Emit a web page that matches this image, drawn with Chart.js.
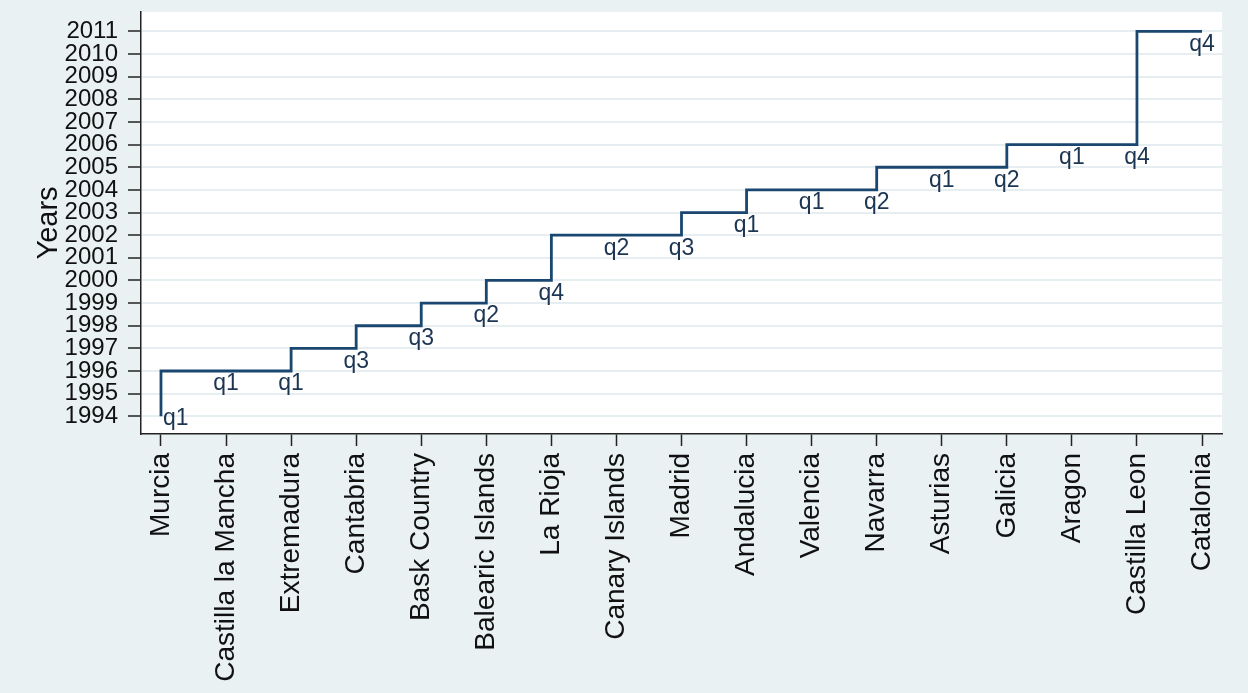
<!DOCTYPE html>
<html>
<head>
<meta charset="utf-8">
<script src="https://cdn.jsdelivr.net/npm/chart.js@4.4.1/dist/chart.umd.min.js"></script>
<style>
    html, body { margin: 0; padding: 0; background: #e9f1f3; }
    #wrap { width: 1248px; height: 693px; position: relative; }
</style>
</head>
<body>
<div id="wrap"><canvas id="stepChart"></canvas></div>
<script>
const regions = [
    'Murcia', 'Castilla la Mancha', 'Extremadura', 'Cantabria', 'Bask Country',
    'Balearic Islands', 'La Rioja', 'Canary Islands', 'Madrid', 'Andalucia',
    'Valencia', 'Navarra', 'Asturias', 'Galicia', 'Aragon', 'Castilla Leon', 'Catalonia'
];
const years = [1994, 1996, 1996, 1997, 1998, 1999, 2000, 2002, 2002, 2003, 2004, 2004, 2005, 2005, 2006, 2006, 2011];
const quarters = ['q1', 'q1', 'q1', 'q3', 'q3', 'q2', 'q4', 'q2', 'q3', 'q1', 'q1', 'q2', 'q1', 'q2', 'q1', 'q4', 'q4'];
const yearTicks = [1994, 1995, 1996, 1997, 1998, 1999, 2000, 2001, 2002, 2003, 2004, 2005, 2006, 2007, 2008, 2009, 2010, 2011];

const FONT = "'Liberation Sans', Arial, sans-serif";
const NAVY = '#1a476f';
const AXIS = '#222';

// white plot region on the blue-grey page
const plotBackground = {
    id: 'plotBackground',
    beforeDraw(chart) {
        const { ctx, chartArea: a } = chart;
        ctx.save();
        ctx.fillStyle = '#e9f1f3';
        ctx.fillRect(0, 0, chart.width, chart.height);
        ctx.fillStyle = '#ffffff';
        ctx.fillRect(a.left, a.top, a.right - a.left, a.bottom - a.top);
        ctx.restore();
    }
};

// quarter label under each point; pushed to the right when it would hit the x axis
const quarterLabels = {
    id: 'quarterLabels',
    afterDatasetsDraw(chart) {
        const { ctx, chartArea: a } = chart;
        const points = chart.getDatasetMeta(0).data;
        ctx.save();
        ctx.font = `23px ${FONT}`;
        ctx.fillStyle = '#1c3552';
        ctx.textBaseline = 'middle';
        points.forEach((p, i) => {
            if (p.y + 24 > a.bottom) {
                ctx.textAlign = 'left';
                ctx.fillText(quarters[i], p.x + 2, p.y + 2);
            } else {
                ctx.textAlign = 'center';
                ctx.fillText(quarters[i], p.x, p.y + 13);
            }
        });
        ctx.restore();
    }
};

new Chart(document.getElementById('stepChart'), {
    type: 'line',
    data: {
        datasets: [{
            data: regions.map((r, i) => ({ x: i, y: years[i] })),
            stepped: 'after',
            borderColor: NAVY,
            borderWidth: 2.8,
            pointRadius: 0,
            fill: false
        }]
    },
    options: {
        responsive: true,
        maintainAspectRatio: false,
        animation: false,
        layout: { padding: { top: 12, right: 26, left: 0, bottom: 0 } },
        plugins: {
            legend: { display: false },
            tooltip: { enabled: false }
        },
        scales: {
            x: {
                type: 'linear',
                min: -0.307,
                max: 16.307,
                afterBuildTicks: (scale) => {
                    scale.ticks = regions.map((r, i) => ({ value: i }));
                },
                afterFit: (scale) => {
                    scale.height = 259;
                    scale.paddingLeft = 0;
                    scale.paddingRight = 0;
                },
                ticks: {
                    autoSkip: false,
                    minRotation: 90,
                    maxRotation: 90,
                    padding: 7,
                    color: '#111',
                    font: { family: FONT, size: 28 },
                    callback: (v) => regions[v]
                },
                grid: {
                    drawOnChartArea: false,
                    drawTicks: true,
                    tickLength: 12,
                    tickColor: AXIS,
                    tickWidth: 1.5
                },
                border: { display: true, color: AXIS, width: 1.5 }
            },
            y: {
                min: 1993.218,
                max: 2011.857,
                afterBuildTicks: (scale) => {
                    scale.ticks = yearTicks.map(v => ({ value: v }));
                },
                afterFit: (scale) => {
                    scale.width = 141;
                    scale.paddingTop = 0;
                    scale.paddingBottom = 0;
                },
                ticks: {
                    autoSkip: false,
                    padding: 10,
                    color: '#111',
                    font: { family: FONT, size: 24 },
                    callback: (v) => String(v)
                },
                grid: {
                    color: '#e6eef1',
                    lineWidth: 2,
                    drawTicks: true,
                    tickLength: 13,
                    tickColor: AXIS,
                    tickWidth: 1.5
                },
                border: { display: true, color: AXIS, width: 1.5 },
                title: {
                    display: true,
                    text: 'Years',
                    color: '#111',
                    font: { family: FONT, size: 29 },
                    padding: { top: 32, bottom: 0 }
                }
            }
        }
    },
    plugins: [plotBackground, quarterLabels]
});
</script>
</body>
</html>
